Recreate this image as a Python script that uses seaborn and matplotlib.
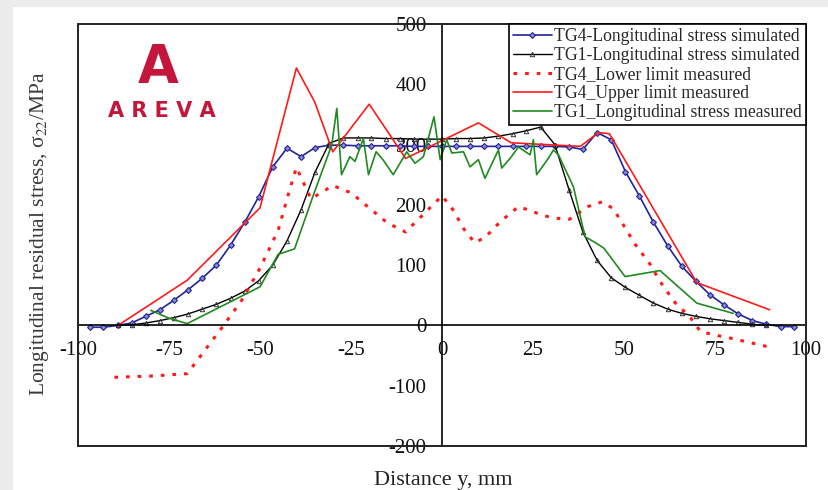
import matplotlib
matplotlib.use("Agg")
import matplotlib.pyplot as plt
import seaborn as sns
import pandas as pd
from matplotlib.patches import Rectangle

# TG4 simulated (blue, diamonds)
x_tg4_sim = [-96.8, -93.0, -89.1, -85.3, -81.4, -77.5, -73.6, -69.8, -65.9, -62.0,
             -58.1, -54.2, -50.4, -46.5, -42.6, -38.7, -34.9, -31.0, -27.1, -23.2,
             -19.4, -15.5, -11.6, -7.7, -3.9, 0.0, 3.9, 7.7, 11.6, 15.5,
             19.4, 23.2, 27.1, 31.0, 34.9, 38.7, 42.6, 46.5, 50.4, 54.2,
             58.1, 62.0, 65.9, 69.8, 73.6, 77.5, 81.4, 85.3, 89.1, 93.0, 96.8]
y_tg4_sim = [-3, -3, 0, 4, 15, 26, 42, 59, 78, 100,
             133, 171, 213, 263, 294, 280, 295, 299, 299, 298,
             298, 298, 298, 297, 297, 297, 297, 297, 297, 297,
             297, 297, 297, 297, 296, 292, 320, 308, 255, 215,
             171, 132, 98, 73, 51, 34, 19, 8, 2, -2, -2]

# TG1 simulated (black, triangles)
x_tg1_sim = [-89.1, -85.3, -81.4, -77.5, -73.6, -69.8, -65.9, -62.0, -58.1, -54.2,
             -50.4, -46.5, -42.6, -38.7, -34.9, -31.0, -27.1, -23.2, -19.4, -15.5,
             -11.6, -7.7, -3.9, 0.0, 3.9, 7.7, 11.6, 15.5, 19.4, 23.2,
             27.1, 31.0, 34.9, 38.7, 42.6, 46.5, 50.4, 54.2, 58.1, 62.0,
             65.9, 69.8, 73.6, 77.5, 81.4, 85.3, 89.1]
y_tg1_sim = [0, 1, 4, 8, 13, 19, 27, 35, 45, 57,
             74, 100, 140, 192, 254, 302, 311, 311, 311, 310,
             310, 309, 309, 309, 310, 310, 311, 314, 318, 323,
             329, 300, 225, 155, 108, 79, 63, 50, 37, 27,
             20, 15, 11, 8, 5, 2, 0]

# TG4 lower limit measured (red dotted)
x_tg4_low = [-90, -80, -70, -65, -60, -55, -50, -45, -42, -40, -36, -30, -25, -20,
             -15, -10, -5, 0, 3, 6, 9, 12, 16, 21, 24, 28, 31, 35, 40, 44,
             47, 50, 53, 57, 60, 64, 68, 71, 75, 80, 85, 90]
y_tg4_low = [-86, -84, -80, -40, 0, 42, 95, 158, 222, 262, 210, 232, 220, 195,
             170, 155, 185, 215, 192, 160, 137, 147, 172, 197, 191, 182, 178, 176, 197, 205,
             194, 165, 135, 103, 72, 38, 15, -10, -16, -22, -29, -36]

# TG4 upper limit measured (red solid)
x_tg4_up = [-89, -70, -50, -40, -35, -30, -20, -10, 10, 19, 38, 43, 46, 70, 90]
y_tg4_up = [0, 75, 195, 427, 371, 288, 367, 277, 336, 303, 297, 320, 318, 71, 26]

# TG1 measured (green)
x_tg1_meas = [-80, -75, -70, -50, -45, -40.5, -35, -30.3, -28.9, -27.6, -25.3, -23.9,
              -21.6, -20.2, -18.1, -16.1, -13.4, -9.7, -7.4, -5.1, -2.2, -0.5, 1.3, 2.7,
              5.9, 7.7, 10, 11.8, 15.5, 16.4, 18.7, 21, 24.2, 25.1, 26, 29.2, 30.6, 32,
              36.1, 39.3, 42.5, 44.5, 50.3, 59.9, 70, 80]
y_tg1_meas = [25, 12, 3, 64, 118, 127, 222, 299, 360, 250, 280, 272,
              310, 250, 288, 274, 250, 288, 269, 280, 346, 275, 308, 286,
              288, 263, 275, 244, 291, 261, 277, 296, 283, 308, 250, 277, 291, 283,
              230, 147, 136, 128, 81, 91, 37, 20]

labels = ["TG4-Longitudinal stress simulated", "TG1-Longitudinal stress simulated",
          "TG4_Lower limit measured", "TG4_Upper limit measured",
          "TG1_Longitudinal stress measured"]
x_ticks = [-100, -75, -50, -25, 0, 25, 50, 75, 100]
y_ticks = [-200, -100, 0, 100, 200, 300, 400, 500]

sns.set_style("white")
plt.rcParams['font.family'] = ['Liberation Serif', 'DejaVu Serif']
plt.rcParams['mathtext.fontset'] = 'stix'
plt.rcParams['axes.unicode_minus'] = False

fig = plt.figure(figsize=(8.29, 4.9), dpi=100, facecolor='#ececec')
fig.patches.append(Rectangle((13 / 829, 0), 1, 1 - 7 / 490, transform=fig.transFigure,
                             facecolor='white', edgecolor='none', zorder=-10))
ax = fig.add_axes([78 / 829, 1 - 446 / 490, 728 / 829, 422 / 490])
ax.set_facecolor('white')

blue = '#23239a'
red = '#ff1a1a'
green = '#1f8a1f'

sns.lineplot(x=x_tg4_sim, y=y_tg4_sim, ax=ax, sort=False, estimator=None, color=blue,
             lw=1.2, marker='D', markersize=3, markerfacecolor='#8a8ad0',
             markeredgecolor=blue, markeredgewidth=0.8, label=labels[0])
sns.lineplot(x=x_tg1_sim, y=y_tg1_sim, ax=ax, sort=False, estimator=None, color='black',
             lw=1.0, marker='^', markersize=3.2, markerfacecolor='none',
             markeredgecolor='#333333', markeredgewidth=0.7, label=labels[1])
sns.lineplot(x=x_tg4_low, y=y_tg4_low, ax=ax, sort=False, estimator=None, color=red,
             lw=2.2, linestyle=(0, (1.2, 2.6)), label=labels[2])
sns.lineplot(x=x_tg4_up, y=y_tg4_up, ax=ax, sort=False, estimator=None, color=red,
             lw=1.2, label=labels[3])
sns.lineplot(x=x_tg1_meas, y=y_tg1_meas, ax=ax, sort=False, estimator=None, color=green,
             lw=1.2, label=labels[4])

ax.set_xlim(-100, 100)
ax.set_ylim(-200, 500)
ax.set_xticks(x_ticks)
ax.set_yticks(y_ticks)
ax.set_xticklabels([str(t) for t in x_ticks])
ax.set_yticklabels([str(t) for t in y_ticks])

# axes crossing at zero, plus a full frame
for side in ['top', 'right']:
    ax.spines[side].set_visible(False)
ax.spines['left'].set_position(('data', 0))
ax.spines['bottom'].set_position(('data', 0))
for side in ['left', 'bottom']:
    ax.spines[side].set_color('black')
    ax.spines[side].set_linewidth(1.2)
ax.add_patch(Rectangle((0, 0), 1, 1, transform=ax.transAxes, fill=False,
                       edgecolor='#222222', lw=1.4, clip_on=False, zorder=5))
ax.tick_params(axis='both', direction='in', length=6, width=1.1, color='black',
               labelsize=15, labelcolor='#111111', pad=11)
ax.set_xlabel("")
ax.set_ylabel("")

leg = ax.legend(loc='upper right', bbox_to_anchor=(1, 1), borderaxespad=0,
                fontsize=12.7, frameon=True, fancybox=False, edgecolor='black',
                framealpha=1, handlelength=2.2, handletextpad=0.15,
                labelspacing=0.12, borderpad=0.22)
leg.get_frame().set_linewidth(1.2)
leg.set_zorder(10)

fig.text(40 / 829, 1 - 234 / 490, "Longitudinal residual stress, σ$_{22}$/MPa",
         rotation=90, ha='center', va='center', fontsize=15.5, color='#3a3a3a')
fig.text(443 / 829, 5 / 490, "Distance y, mm", ha='center', va='baseline',
         fontsize=16, color='#222222')

# AREVA logo as text
logo = '#c4163a'
fig.text(158 / 829, 1 - 68 / 490, "A", ha='center', va='center', fontsize=38,
         fontweight='bold', color=logo, family='DejaVu Sans')
fig.text(162 / 829, 1 - 111 / 490, "A R E V A", ha='center', va='center', fontsize=15,
         fontweight='bold', color=logo, family='DejaVu Sans')

plt.savefig("out.png", dpi=100, facecolor=fig.get_facecolor())
